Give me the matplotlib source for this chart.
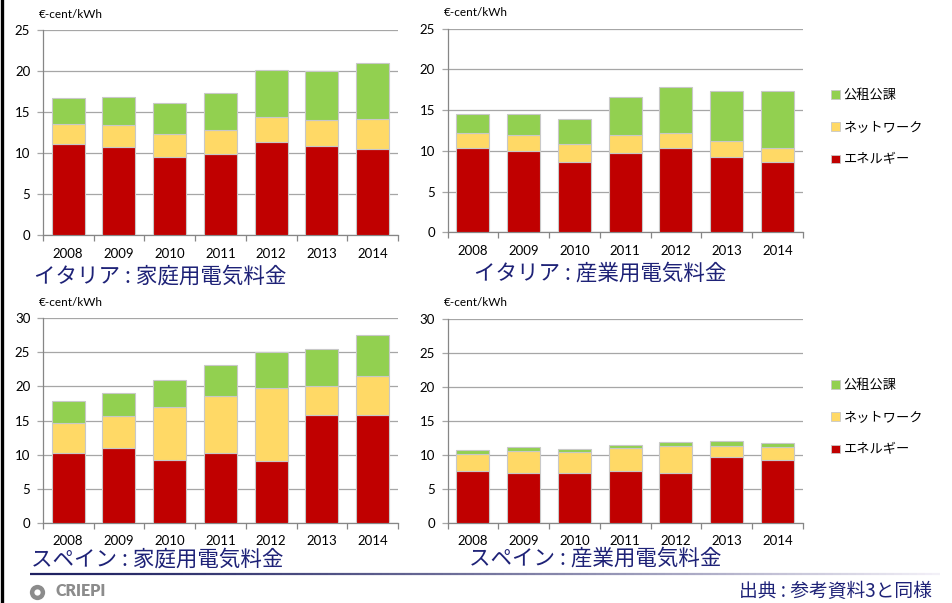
import matplotlib
matplotlib.use('Agg')
import matplotlib.pyplot as plt
import numpy as np
from matplotlib.patches import Patch
from matplotlib.collections import LineCollection

years = ['2008', '2009', '2010', '2011', '2012', '2013', '2014']
series_names = ['エネルギー', 'ネットワーク', '公租公課']
unit_label = '€-cent/kWh'

# Italy household
it_home_energy = [11.1, 10.8, 9.5, 9.9, 11.4, 10.9, 10.5]
it_home_network = [2.5, 2.6, 2.9, 2.9, 3.0, 3.1, 3.7]
it_home_taxes = [3.2, 3.5, 3.7, 4.5, 5.7, 6.0, 6.8]
# Italy industry
it_ind_energy = [10.3, 10.0, 8.6, 9.7, 10.3, 9.3, 8.6]
it_ind_network = [1.85, 2.0, 2.2, 2.2, 1.9, 1.9, 1.8]
it_ind_taxes = [2.35, 2.5, 3.1, 4.7, 5.6, 6.1, 6.95]
# Spain household
es_home_energy = [10.3, 10.9, 9.25, 10.2, 9.0, 15.8, 15.8]
es_home_network = [4.4, 4.8, 7.75, 8.45, 10.7, 4.2, 5.8]
es_home_taxes = [3.2, 3.35, 3.9, 4.5, 5.4, 5.45, 5.95]
# Spain industry
es_ind_energy = [7.65, 7.35, 7.25, 7.65, 7.35, 9.7, 9.15]
es_ind_network = [2.45, 3.25, 3.1, 3.35, 4.0, 1.65, 1.95]
es_ind_taxes = [0.55, 0.55, 0.55, 0.5, 0.55, 0.7, 0.55]

titles = ['イタリア : 家庭用電気料金', 'イタリア : 産業用電気料金',
          'スペイン : 家庭用電気料金', 'スペイン : 産業用電気料金']
source_text = '出典 : 参考資料3と同様'

W, H = 953, 603
C_ENERGY = '#C00000'
C_NET = '#FFD966'
C_TAX = '#92D050'
NAVY = '#1E2277'
JP = ['Noto Sans CJK JP', 'DejaVu Sans']

plt.rcParams['font.family'] = ['Lato', 'Noto Sans CJK JP', 'DejaVu Sans']

fig = plt.figure(figsize=(W / 100, H / 100), dpi=100)
fig.patch.set_facecolor('white')


def fx(x):
    return x / W


def fy(y):
    return 1 - y / H


def make_axes(x0, x1, ytop, ybot):
    return fig.add_axes([fx(x0), fy(ybot), fx(x1 - x0), (ybot - ytop) / H])


panels = [
    ((42.8, 398, 30.3, 235.2), 25, (it_home_energy, it_home_network, it_home_taxes), (39, 15)),
    ((447.6, 802.8, 28.7, 232.3), 25, (it_ind_energy, it_ind_network, it_ind_taxes), (444, 12)),
    ((42.8, 398, 318.3, 522.7), 30, (es_home_energy, es_home_network, es_home_taxes), (39, 302)),
    ((447.6, 802.8, 318.7, 522.7), 30, (es_ind_energy, es_ind_network, es_ind_taxes), (444, 302)),
]

axes = []
for (box, ymax, (en, nw, tx), ulab) in panels:
    ax = make_axes(*box)
    x = np.arange(len(years))
    en = np.array(en); nw = np.array(nw); tx = np.array(tx)
    kw = dict(width=0.65, edgecolor='#C8C8C8', linewidth=0.8, zorder=3)
    ax.bar(x, en, color=C_ENERGY, label=series_names[0], **kw)
    ax.bar(x, nw, bottom=en, color=C_NET, label=series_names[1], **kw)
    ax.bar(x, tx, bottom=en + nw, color=C_TAX, label=series_names[2], **kw)
    ax.set_xlim(-0.5, len(years) - 0.5)
    ax.set_ylim(0, ymax)
    ax.set_yticks(np.arange(0, ymax + 1, 5))
    ax.yaxis.grid(True, color='#A6A6A6', linewidth=0.9, zorder=0)
    ax.set_axisbelow(True)
    for s in ['top', 'right']:
        ax.spines[s].set_visible(False)
    for s in ['left', 'bottom']:
        ax.spines[s].set_color('#868686')
        ax.spines[s].set_linewidth(0.9)
    ax.set_xticks(x)
    ax.set_xticklabels(years)
    ax.tick_params(axis='x', which='major', length=0, pad=9, labelsize=9.5, colors='#000000')
    ax.set_xticks(np.arange(-0.5, len(years)), minor=True)
    ax.tick_params(axis='x', which='minor', length=4, width=0.9, color='#868686', direction='out')
    ax.tick_params(axis='y', length=4, width=0.9, color='#A6A6A6', pad=5, labelsize=9.5, direction='out')
    fig.text(fx(ulab[0]), fy(ulab[1]), unit_label, fontsize=8.5, ha='left', va='center',
             family=['Lato', 'DejaVu Sans'])
    axes.append(ax)

# legends
handles = [Patch(facecolor=C_TAX, edgecolor='#C8C8C8', linewidth=0.6),
           Patch(facecolor=C_NET, edgecolor='#C8C8C8', linewidth=0.6),
           Patch(facecolor=C_ENERGY, edgecolor='#C8C8C8', linewidth=0.6)]
labels = [series_names[2], series_names[1], series_names[0]]
for ax, ycen in [(axes[1], 128), (axes[3], 418)]:
    fig.legend(handles, labels, loc='center left', bbox_to_anchor=(fx(831), fy(ycen)),
               frameon=False, prop={'family': JP, 'size': 9.5}, handlelength=0.65,
               handleheight=0.65, handletextpad=0.3, labelspacing=1.45, borderpad=0,
               borderaxespad=0)

# titles
for (cx, cy), t in zip([(160, 277), (600, 274), (157, 560), (595, 559)], titles):
    fig.text(fx(cx), fy(cy), t, fontsize=15.5, color=NAVY, ha='center', va='center', family=JP)

fig.text(fx(932), fy(591), source_text, fontsize=13.5, color=NAVY, ha='right', va='center',
         family=JP)

# decorative bottom rule with fade
xs = np.linspace(30, 940, 120)
segs = [[(fx(xs[i]), fy(574)), (fx(xs[i + 1]), fy(574))] for i in range(len(xs) - 1)]
c0 = np.array([0.12, 0.13, 0.38])
c1 = np.array([0.95, 0.94, 0.97])
t = np.linspace(0, 1, len(segs))
cols = [tuple(c0 + (c1 - c0) * (v ** 1.3)) for v in t]
lc = LineCollection(segs, colors=cols, linewidths=1.6, transform=fig.transFigure)
fig.add_artist(lc)

# left black rule
fig.add_artist(plt.Line2D([fx(2.5), fx(2.5)], [0, 1], color='black', linewidth=2.4,
                          transform=fig.transFigure))

# CRIEPI logo
fig.add_artist(plt.Line2D([fx(37.5)], [fy(591.5)], marker='o', markersize=11,
                          markerfacecolor='#8C8C8C', markeredgecolor='none',
                          transform=fig.transFigure))
fig.add_artist(plt.Line2D([fx(37.5)], [fy(591.5)], marker='o', markersize=4.5,
                          markerfacecolor='white', markeredgecolor='none',
                          transform=fig.transFigure))
fig.text(fx(56), fy(591.5), 'CRIEPI', fontsize=11.5, color='#8C8C8C', fontweight='heavy',
         ha='left', va='center', family=['Lato', 'DejaVu Sans'])

fig.savefig('out.png', dpi=100, facecolor='white')
